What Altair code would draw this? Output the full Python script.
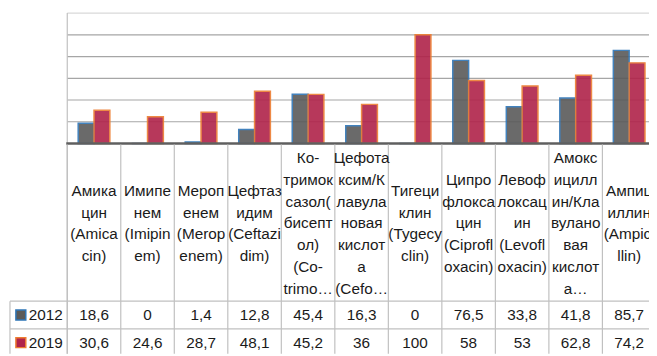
import altair as alt
import pandas as pd

categories = [
    "Амика\nцин\n(Amica\ncin)",
    "Имипе\nнем\n(Imipin\nem)",
    "Мероп\nенем\n(Merop\nenem)",
    "Цефтаз\nидим\n(Ceftazi\ndim)",
    "Ко-\nтримок\nсазол(\nбисепт\nол)\n(Co-\ntrimo…",
    "Цефота\nксим/К\nлавула\nновая\nкислот\nа\n(Cefo…",
    "Тигеци\nклин\n(Tygecy\nclin)",
    "Ципро\nфлокса\nцин\n(Ciprofl\noxacin)",
    "Левоф\nлоксац\nин\n(Levofl\noxacin)",
    "Амокс\nицилл\nин/Кла\nвулано\nвая\nкислот\nа…",
    "Ампиц\nиллин\n(Ampici\nllin)",
]
years = ["2012", "2019"]
values_2012 = [18.6, 0, 1.4, 12.8, 45.4, 16.3, 0, 76.5, 33.8, 41.8, 85.7]
values_2019 = [30.6, 24.6, 28.7, 48.1, 45.2, 36, 100, 58, 53, 62.8, 74.2]
grid_values = [20, 40, 60, 80, 100]

fills = ["#5a5a5a", "#b0234a"]
strokes = ["#2e75b6", "#ed7d31"]

def fmt(v):
    return f"{v:g}".replace(".", ",")

rows = []
for i, c in enumerate(categories):
    rows.append({"cat": c, "year": "2012", "value": values_2012[i], "label": fmt(values_2012[i])})
    rows.append({"cat": c, "year": "2019", "value": values_2019[i], "label": fmt(values_2019[i])})
df = pd.DataFrame(rows)
df_cat = pd.DataFrame({"cat": categories})
df_year = pd.DataFrame({"year": years})

line_rows = []
for c in categories:
    parts = c.split("\n")
    n = len(parts)
    for j, p in enumerate(parts):
        line_rows.append({"cat": c, "line": p, "off": j - (n - 1) / 2})
df_lines = pd.DataFrame(line_rows)

FONT = "Liberation Sans"
TXT = "#1a1a1a"
LINE_H = 22
HEAD_C = 216

xs = alt.Scale(domain=categories, range=[60, 656], paddingInner=0, paddingOuter=0)
ys = alt.Scale(domain=[0, 120], range=[135, 3])
yrow = alt.Scale(domain=years, range=[294.7, 350.7], paddingInner=0, paddingOuter=0)
yline = alt.Scale(domain=[-3, 3], range=[HEAD_C - 3 * LINE_H, HEAD_C + 3 * LINE_H])
fill_s = alt.Scale(domain=years, range=fills)
stroke_s = alt.Scale(domain=years, range=strokes)

top_border = alt.Chart(pd.DataFrame({"v": [120]})).mark_rule(color="#d9d9d9", strokeWidth=1.2).encode(
    y=alt.Y("v:Q", scale=ys, axis=None), x=alt.value(60), x2=alt.value(649))
grid = alt.Chart(pd.DataFrame({"v": grid_values})).mark_rule(color="#a6a6a6", strokeWidth=1.2).encode(
    y=alt.Y("v:Q", scale=ys, axis=None), x=alt.value(60), x2=alt.value(649))
left_border = alt.Chart(pd.DataFrame({"v": [0]})).mark_rule(color="#c0c0c0", strokeWidth=1.2).encode(
    x=alt.value(60), y=alt.value(3), y2=alt.value(348))

bars = alt.Chart(df).mark_bar(opacity=0.9, strokeWidth=1.5).encode(
    x=alt.X("cat:N", scale=xs, axis=None, sort=categories),
    xOffset=alt.XOffset("year:N", scale=alt.Scale(domain=years, paddingOuter=0.69, paddingInner=0)),
    y=alt.Y("value:Q", scale=ys, axis=None),
    fill=alt.Fill("year:N", scale=fill_s, legend=None),
    stroke=alt.Stroke("year:N", scale=stroke_s, legend=None),
)

baseline = alt.Chart(pd.DataFrame({"v": [0]})).mark_rule(color="#5f5f5f", strokeWidth=2.5).encode(
    y=alt.Y("v:Q", scale=ys, axis=None), x=alt.value(59), x2=alt.value(649))

col_lines = alt.Chart(df_cat).mark_rule(color="#c0c0c0", strokeWidth=1.2).encode(
    x=alt.X("cat:N", scale=xs, axis=None, sort=categories, bandPosition=0),
    y=alt.value(136), y2=alt.value(348))

row_lines = alt.Chart(df_year).mark_rule(color="#c0c0c0", strokeWidth=1.2).encode(
    y=alt.Y("year:N", scale=yrow, axis=None, bandPosition=0),
    x=alt.value(2), x2=alt.value(649))

legend_border = alt.Chart(pd.DataFrame({"v": [0]})).mark_rule(color="#c0c0c0", strokeWidth=1.2).encode(
    x=alt.value(2), y=alt.value(294.7), y2=alt.value(348))

headers = alt.Chart(df_lines).mark_text(
    font=FONT, fontSize=15.5, baseline="middle", align="center", color=TXT
).encode(
    x=alt.X("cat:N", scale=xs, axis=None, sort=categories),
    y=alt.Y("off:Q", scale=yline, axis=None),
    text="line:N",
)

vals = alt.Chart(df).mark_text(font=FONT, fontSize=15.5, baseline="middle", align="center", color=TXT).encode(
    x=alt.X("cat:N", scale=xs, axis=None, sort=categories),
    y=alt.Y("year:N", scale=yrow, axis=None),
    text="label:N",
)

leg_sq = alt.Chart(df_year).mark_square(size=100, strokeWidth=1.5, opacity=1).encode(
    x=alt.value(13),
    y=alt.Y("year:N", scale=yrow, axis=None),
    fill=alt.Fill("year:N", scale=fill_s, legend=None),
    stroke=alt.Stroke("year:N", scale=stroke_s, legend=None),
)
leg_txt = alt.Chart(df_year).mark_text(font=FONT, fontSize=15.5, baseline="middle", align="left", color=TXT).encode(
    x=alt.value(21),
    y=alt.Y("year:N", scale=yrow, axis=None),
    text="year:N",
)

chart = alt.layer(
    top_border, grid, left_border, bars, baseline, col_lines, row_lines, legend_border,
    headers, vals, leg_sq, leg_txt
).resolve_scale(y="independent").properties(
    width=649, height=348, padding=0, autosize=alt.AutoSizeParams(type="none"), background="white"
).configure_view(stroke=None)

chart.save("out.html", embed_options={"renderer": "svg", "actions": False})
